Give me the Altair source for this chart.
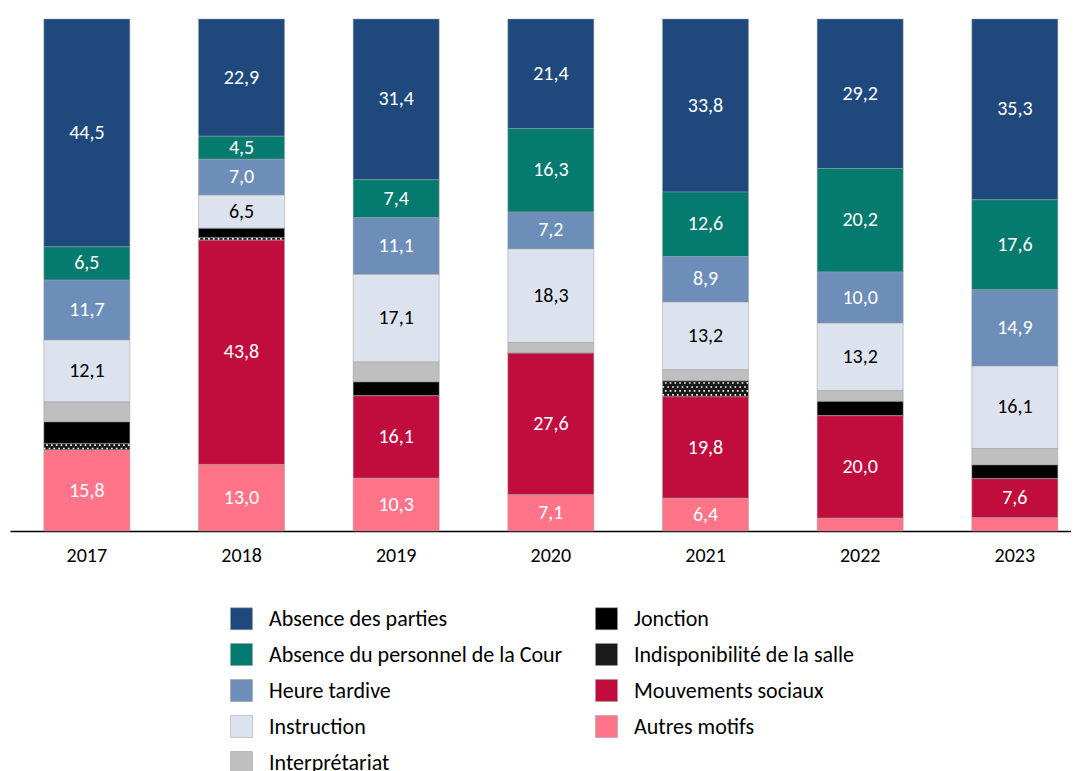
import altair as alt
import pandas as pd

years = ["2017", "2018", "2019", "2020", "2021", "2022", "2023"]
categories = ["Absence des parties", "Absence du personnel de la Cour", "Heure tardive",
              "Instruction", "Interprétariat", "Jonction", "Indisponibilité de la salle",
              "Mouvements sociaux", "Autres motifs"]
colors = ["#1F497D", "#057A6E", "#6E8EBA", "#DCE3EE", "#BFBFBF", "#000000", "#1a1a1a",
          "#C00D3E", "#FF7489"]

parties = [44.5, 22.9, 31.4, 21.4, 33.8, 29.2, 35.3]
personnel = [6.5, 4.5, 7.4, 16.3, 12.6, 20.2, 17.6]
heure = [11.7, 7.0, 11.1, 7.2, 8.9, 10.0, 14.9]
instruction = [12.1, 6.5, 17.1, 18.3, 13.2, 13.2, 16.1]
interpretariat = [3.9, 0.0, 3.9, 2.1, 2.2, 2.1, 3.2]
jonction = [4.2, 1.8, 2.7, 0.0, 0.0, 2.8, 2.7]
indispo = [1.3, 0.5, 0.0, 0.0, 3.1, 0.0, 0.0]
mouvements = [0.0, 43.8, 16.1, 27.6, 19.8, 20.0, 7.6]
autres = [15.8, 13.0, 10.3, 7.1, 6.4, 2.5, 2.6]

series = [parties, personnel, heure, instruction, interpretariat, jonction, indispo,
          mouvements, autres]
labelled = ["Absence des parties", "Absence du personnel de la Cour", "Heure tardive",
            "Instruction", "Mouvements sociaux", "Autres motifs"]

rows = []
n = len(categories)
for ci, (cat, vals) in enumerate(zip(categories, series)):
    for y, v in zip(years, vals):
        rows.append({"year": y, "cat": cat, "value": v, "order": n - ci,
                     "show": (cat in labelled) and v >= 4,
                     "dark": cat != "Instruction"})
df = pd.DataFrame(rows)

FONT = "Carlito, Lato, sans-serif"

base = alt.Chart(df).transform_stack(
    stack="value", groupby=["year"], sort=[alt.SortField("order", order="ascending")],
    as_=["y0", "y1"]
).transform_calculate(
    mid="(datum.y0 + datum.y1) / 2",
    lab="replace(format(datum.value, '.1f'), '.', ',')"
)

xscale = alt.Scale(paddingInner=0.444, paddingOuter=0.152, align=0.72)
yscale = alt.Scale(domain=[0, 100], nice=False)

xenc = alt.X("year:N", sort=years, title=None, scale=xscale,
             axis=alt.Axis(labelAngle=0, ticks=False, domainColor="#000000", domainWidth=1.5,
                           labelFontSize=20, labelFont=FONT, labelColor="#000000",
                           labelPadding=14))

bars = base.mark_bar(stroke="#9a9a9a", strokeWidth=0.5).encode(
    x=xenc,
    y=alt.Y("y0:Q", scale=yscale, axis=None),
    y2="y1:Q",
    color=alt.Color("cat:N", scale=alt.Scale(domain=categories, range=colors),
                    legend=alt.Legend(title=None, orient="none", legendX=220, legendY=588,
                                      columns=2, symbolType="square", symbolSize=484,
                                      symbolStrokeWidth=0.5, symbolStrokeColor="#999999",
                                      labelFontSize=22, labelFont=FONT, labelColor="#000000",
                                      labelOffset=16, rowPadding=11, columnPadding=31,
                                      labelLimit=400)),
)

# dotted texture for "Indisponibilité de la salle"
dot_base = base.transform_filter(
    "datum.cat === 'Indisponibilité de la salle' && datum.value > 0"
).transform_calculate(
    nr="max(1, round(datum.value / 0.8))",
    rws="sequence(0, max(1, round(datum.value / 0.8)))"
).transform_flatten(["rws"]).transform_calculate(
    dy="datum.y0 + (datum.rws + 0.5) * datum.value / datum.nr",
    odd="datum.rws % 2"
)


def dot_layer(parity, offset):
    return dot_base.transform_filter(f"datum.odd == {parity}").mark_rule(
        color="#ffffff", strokeWidth=1.6, strokeDash=[1.6, 3.2], strokeDashOffset=offset
    ).encode(
        x=alt.X("year:N", sort=years, bandPosition=0),
        x2=alt.X2("year:N", bandPosition=1),
        y=alt.Y("dy:Q"),
    )


dots_even = dot_layer(0, 0)
dots_odd = dot_layer(1, 2.4)

texts = base.transform_filter("datum.show").mark_text(fontSize=20, font=FONT).encode(
    x=alt.X("year:N", sort=years),
    y=alt.Y("mid:Q"),
    text="lab:N",
    color=alt.condition("datum.dark", alt.value("#ffffff"), alt.value("#000000")),
)

chart = alt.layer(bars, dots_even, dots_odd, texts).properties(
    width=1061, height=512,
    padding={"left": 2, "top": 10, "right": 0, "bottom": 0}
).configure_view(stroke=None)

chart.save("out.html", embed_options={"renderer": "svg", "actions": False})
